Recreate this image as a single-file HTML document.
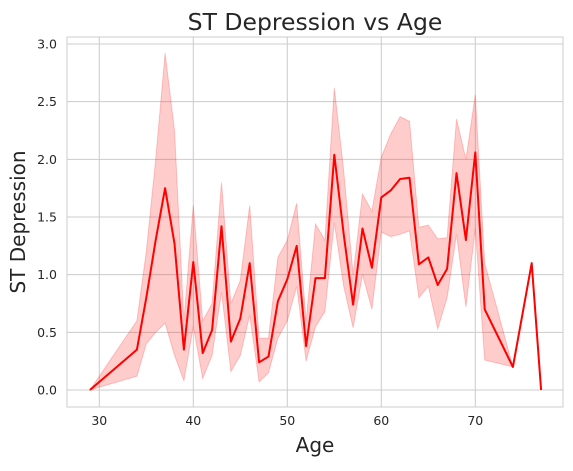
<!DOCTYPE html>
<html><head><meta charset="utf-8"><style>
body{margin:0;background:#fff;font-family:"Liberation Sans","DejaVu Sans",sans-serif}
</style></head><body>
<svg id="chart" width="573" height="466" xmlns="http://www.w3.org/2000/svg" style="font-family:'DejaVu Sans','Liberation Sans',sans-serif">
<rect width="573" height="466" fill="#fff"/>
<g id="grid"></g>
<g id="ticks"></g>
<g id="marks"></g>
<rect x="67" y="37" width="496" height="370" fill="none" stroke="#ccc" stroke-width="1"/>
<text x="315" y="30" font-size="23.5" text-anchor="middle" fill="#262626">ST Depression vs Age</text>
<text x="315" y="452" font-size="20" text-anchor="middle" fill="#262626">Age</text>
<text transform="translate(25,222) rotate(-90)" font-size="20" text-anchor="middle" fill="#262626">ST Depression</text>
</svg>
<script>
const ages=[29,34,35,36,37,38,39,40,41,42,43,44,45,46,47,48,49,50,51,52,53,54,55,56,57,58,59,60,61,62,63,64,65,66,67,68,69,70,71,74,76,77];
const meanVals=[0,0.35,0.8,1.3,1.75,1.27,0.35,1.11,0.32,0.52,1.42,0.42,0.62,1.1,0.24,0.29,0.77,0.96,1.25,0.38,0.97,0.97,2.04,1.35,0.74,1.4,1.06,1.67,1.73,1.83,1.84,1.09,1.15,0.91,1.05,1.88,1.3,2.06,0.7,0.2,1.1,0];
const loVals=[0,0.12,0.4,0.5,0.58,0.3,0.08,0.55,0.1,0.3,0.85,0.16,0.3,0.65,0.07,0.15,0.45,0.6,0.9,0.25,0.55,0.68,1.45,0.9,0.54,1.0,0.7,1.37,1.33,1.35,1.38,0.8,0.9,0.53,0.8,1.35,0.72,1.4,0.26,0.2,1.1,0];
const hiVals=[0,0.6,1.2,2.0,2.92,2.25,0.6,1.6,0.6,0.75,1.8,0.75,0.95,1.6,0.45,0.45,1.15,1.3,1.62,0.6,1.44,1.3,2.62,1.9,1.0,1.7,1.55,2.02,2.22,2.37,2.33,1.41,1.43,1.31,1.32,2.35,2.0,2.56,1.1,0.2,1.1,0];
const xTicks=[30,40,50,60,70];
const yTicks=[0,0.5,1,1.5,2,2.5,3];
const X=a=>99.3+(a-30)*9.4;
const Y=v=>390-v*115.33;
const NS="http://www.w3.org/2000/svg";
function mk(t,p,at){const e=document.createElementNS(NS,t);for(const k in at)e.setAttribute(k,at[k]);p.appendChild(e);return e;}
const grid=document.getElementById('grid'),ticks=document.getElementById('ticks'),marks=document.getElementById('marks');
xTicks.forEach(t=>{
  const l=mk('line',grid,{x1:X(t),x2:X(t),y1:37,y2:407,stroke:'#ccc','stroke-width':1});
  
  
  const s=mk('text',ticks,{x:X(t),y:425,'font-size':12.5,'text-anchor':'middle',fill:'#262626'});
  s.textContent=t;
  
  
});
yTicks.forEach(t=>{
  const l=mk('line',grid,{x1:67,x2:563,y1:Y(t),y2:Y(t),stroke:'#ccc','stroke-width':1});
  
  
  const s=mk('text',ticks,{x:57,y:Y(t)+4.5,'font-size':12.5,'text-anchor':'end',fill:'#262626'});
  s.textContent=t.toFixed(1);
  
  
});
let d='M'+ages.map((a,i)=>X(a)+','+Y(hiVals[i])).join('L');
for(let i=ages.length-1;i>=0;i--)d+='L'+X(ages[i])+','+Y(loVals[i]);
const band=mk('path',marks,{d:d+'Z',fill:'#ff0000','fill-opacity':0.2,stroke:'#ff0000','stroke-opacity':0.2,'stroke-width':1});


const line=mk('polyline',marks,{points:ages.map((a,i)=>X(a)+','+Y(meanVals[i])).join(' '),fill:'none',stroke:'#ff0000','stroke-width':2,'stroke-linejoin':'round'});


</script>
</body></html>
